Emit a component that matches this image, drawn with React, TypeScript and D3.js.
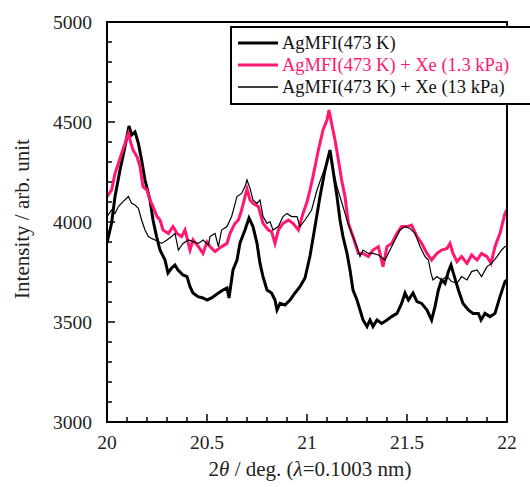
import React from "react";
import * as d3 from "d3";

// AgMFI(473 K)
const thetaA = [20.0,20.023,20.04,20.065,20.09,20.11,20.123,20.14,20.157,20.173,20.19,20.215,20.23,20.248,20.265,20.29,20.305,20.323,20.34,20.355,20.38,20.4,20.415,20.43,20.455,20.48,20.5,20.523,20.557,20.58,20.6,20.61,20.63,20.65,20.665,20.69,20.71,20.73,20.75,20.765,20.78,20.8,20.823,20.84,20.85,20.865,20.89,20.915,20.94,20.965,20.99,21.015,21.04,21.065,21.09,21.115,21.13,21.15,21.165,21.18,21.2,21.215,21.23,21.25,21.265,21.28,21.3,21.315,21.33,21.35,21.373,21.4,21.423,21.45,21.473,21.49,21.507,21.53,21.55,21.573,21.6,21.623,21.64,21.657,21.673,21.69,21.707,21.72,21.737,21.757,21.78,21.807,21.83,21.857,21.87,21.89,21.915,21.94,21.965,21.99,22.0];
const intA = [3895,3995,4127,4260,4377,4480,4435,4450,4393,4310,4210,4110,4010,3927,3860,3810,3745,3770,3785,3760,3735,3727,3677,3645,3627,3620,3610,3620,3645,3660,3670,3620,3760,3810,3895,3960,4020,3977,3893,3793,3727,3660,3645,3610,3560,3593,3585,3610,3645,3677,3720,3830,3977,4127,4260,4360,4260,4127,4010,3927,3843,3760,3660,3610,3560,3510,3477,3510,3477,3510,3493,3510,3527,3543,3593,3645,3610,3645,3602,3593,3560,3510,3577,3660,3710,3693,3752,3785,3727,3660,3593,3560,3543,3543,3510,3543,3527,3543,3627,3702,3710];

// AgMFI(473 K) + Xe (1.3 kPa)
const thetaB = [20.0,20.023,20.04,20.057,20.073,20.09,20.107,20.12,20.13,20.15,20.165,20.18,20.2,20.215,20.23,20.25,20.265,20.28,20.307,20.33,20.35,20.373,20.39,20.415,20.43,20.457,20.48,20.5,20.515,20.54,20.573,20.6,20.615,20.64,20.657,20.673,20.7,20.715,20.73,20.757,20.78,20.807,20.823,20.84,20.857,20.88,20.907,20.93,20.957,20.98,21.0,21.015,21.03,21.057,21.08,21.1,21.11,21.123,21.14,21.157,21.173,21.19,21.207,21.23,21.257,21.28,21.307,21.33,21.357,21.38,21.4,21.423,21.45,21.473,21.5,21.523,21.55,21.573,21.6,21.623,21.65,21.673,21.7,21.715,21.73,21.75,21.773,21.8,21.823,21.85,21.873,21.9,21.92,21.94,21.965,21.99,22.0];
const intB = [4127,4160,4243,4293,4343,4393,4443,4393,4360,4327,4277,4177,4160,4110,4077,4027,4010,3960,3943,3977,3943,3927,3960,3860,3910,3877,3843,3900,3877,3852,3877,3893,3943,3993,4010,4060,4165,4110,4093,4077,3993,3960,3952,3893,3960,3993,4010,3993,3960,4043,4100,4160,4227,4360,4460,4510,4560,4493,4410,4310,4210,4127,3993,3927,3843,3843,3827,3860,3877,3777,3877,3893,3943,3977,3977,3985,3927,3893,3843,3810,3843,3860,3868,3893,3843,3802,3827,3793,3835,3810,3843,3827,3793,3877,3943,4043,4060];

// AgMFI(473 K) + Xe (13 kPa)
const thetaC = [20.0,20.023,20.04,20.057,20.08,20.107,20.123,20.14,20.157,20.173,20.19,20.207,20.223,20.24,20.257,20.273,20.3,20.323,20.34,20.357,20.38,20.407,20.43,20.457,20.48,20.507,20.515,20.54,20.557,20.573,20.6,20.623,20.65,20.673,20.69,20.7,20.715,20.73,20.75,20.765,20.78,20.8,20.815,20.83,20.857,20.88,20.9,20.923,20.95,20.965,20.99,21.023,21.05,21.073,21.1,21.115,21.13,21.15,21.165,21.18,21.2,21.223,21.25,21.265,21.28,21.307,21.33,21.357,21.39,21.415,21.44,21.465,21.49,21.515,21.54,21.565,21.59,21.607,21.62,21.63,21.65,21.673,21.7,21.723,21.75,21.773,21.8,21.823,21.85,21.873,21.9,21.923,21.95,21.973,21.99,22.0];
const intC = [4027,4060,4043,4077,4102,4127,4093,4085,4068,4010,3960,3927,3918,3910,3902,3893,3910,3927,3943,3860,3893,3910,3902,3893,3910,3885,3927,3943,3877,3960,3977,4027,4127,4143,4177,4210,4168,4110,4093,4110,4027,3993,4002,3960,3977,4027,4043,4027,4027,3977,4010,4060,4160,4227,4293,4352,4260,4177,4127,4077,4010,3943,3877,3827,3860,3843,3843,3835,3810,3860,3910,3960,3977,3968,3943,3877,3827,3810,3743,3710,3727,3710,3727,3702,3693,3727,3710,3752,3760,3727,3777,3793,3827,3860,3877,3880];

const legendLabels = ["AgMFI(473 K)", "AgMFI(473 K) + Xe (1.3 kPa)", "AgMFI(473 K) + Xe (13 kPa)"];
const xTickLabels = ["20", "20.5", "21", "21.5", "22"];
const yTickLabels = ["3000", "3500", "4000", "4500", "5000"];

const PINK = "#ff1770";
const FONT = "'Liberation Serif', 'Times New Roman', serif";

const App = () => {
  const width = 530;
  const height = 487;
  const left = 107, right = 507, top = 22, bottom = 422;

  const x = d3.scaleLinear().domain([20, 22]).range([left, right]);
  const y = d3.scaleLinear().domain([3000, 5000]).range([bottom, top]);

  const line = d3.line<[number, number]>()
    .x(d => x(d[0]))
    .y(d => y(d[1]));

  const series = [
    { pts: thetaA.map((t, i) => [t, intA[i]] as [number, number]), color: "#000", w: 3 },
    { pts: thetaB.map((t, i) => [t, intB[i]] as [number, number]), color: PINK, w: 3 },
    { pts: thetaC.map((t, i) => [t, intC[i]] as [number, number]), color: "#000", w: 1.2 },
  ];

  const xMinor = d3.range(0, 21).map(i => 20 + i * 0.1);
  const yMinor = d3.range(0, 21).map(i => 3000 + i * 100);

  const legendColors = ["#000", PINK, "#000"];
  const legendW = [3, 3, 1.5];

  return (
    <svg width={width} height={height} style={{ position: "absolute", left: 0, top: 0, background: "#fff" }}>
      <defs>
        <clipPath id="plotclip">
          <rect x={left} y={top} width={right - left} height={bottom - top} />
        </clipPath>
      </defs>
      <g clipPath="url(#plotclip)">
        {series.map((s, i) => (
          <path key={i} d={line(s.pts) || ""} fill="none" stroke={s.color} strokeWidth={s.w} strokeLinejoin="miter" />
        ))}
      </g>

      {/* ticks point inward */}
      {xMinor.map((v, i) => {
        const major = i % 5 === 0;
        return (
          <line key={`xt${i}`} x1={x(v)} x2={x(v)} y1={bottom} y2={bottom - (major ? 8 : 5)} stroke="#000" strokeWidth={1.5} />
        );
      })}
      {yMinor.map((v, i) => {
        const major = i % 5 === 0;
        return (
          <line key={`yt${i}`} x1={left} x2={left + (major ? 8 : 5)} y1={y(v)} y2={y(v)} stroke="#000" strokeWidth={1.5} />
        );
      })}

      <rect x={left} y={top} width={right - left} height={bottom - top} fill="none" stroke="#000" strokeWidth={2} />

      {xTickLabels.map(t => (
        <text key={t} x={x(+t)} y={bottom + 27} textAnchor="middle" fontFamily={FONT} fontSize={19.5} fill="#222">{t}</text>
      ))}
      {yTickLabels.map(t => (
        <text key={t} x={left - 15} y={y(+t) + 7} textAnchor="end" fontFamily={FONT} fontSize={19.5} fill="#222">{t}</text>
      ))}

      <text x={310} y={476} textAnchor="middle" fontFamily={FONT} fontSize={21} fill="#222">
        2<tspan fontStyle="italic">θ</tspan> / deg. (<tspan fontStyle="italic">λ</tspan>=0.1003 nm)
      </text>
      <text transform={`translate(29, 219) rotate(-90)`} textAnchor="middle" fontFamily={FONT} fontSize={21} fill="#222">
        Intensity / arb. unit
      </text>

      {/* legend */}
      <rect x={231} y={27} width={320} height={77} fill="#fff" stroke="#000" strokeWidth={2} />
      {legendLabels.map((l, i) => (
        <g key={l}>
          <line x1={238} x2={278} y1={43 + i * 22} y2={43 + i * 22} stroke={legendColors[i]} strokeWidth={legendW[i]} />
          <text x={282} y={49 + i * 22} fontFamily={FONT} fontSize={18.5} fill={i === 1 ? PINK : "#111"}>{l}</text>
        </g>
      ))}
    </svg>
  );
};

export default App;
